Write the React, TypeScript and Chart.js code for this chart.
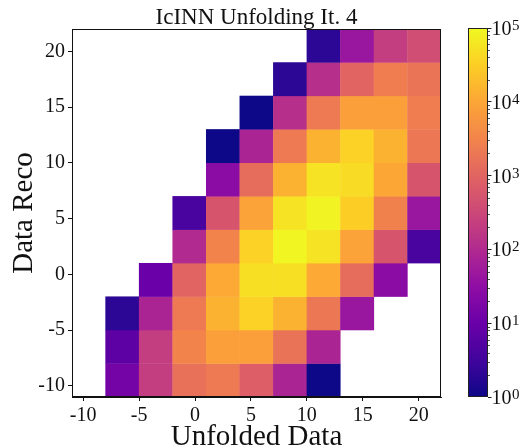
import React, { useEffect, useRef } from 'react';
import { Chart, registerables } from 'chart.js';

Chart.register(...registerables);

const TITLE = 'IcINN Unfolding It. 4';
const X_LABEL = 'Unfolded Data';
const Y_LABEL = 'Data Reco';

const xBinEdges = [-11, -8, -5, -2, 1, 4, 7, 10, 13, 16, 19, 22];
const yBinEdges = [-11, -8, -5, -2, 1, 4, 7, 10, 13, 16, 19, 22];
const xTicks = [-10, -5, 0, 5, 10, 15, 20];
const yTicks = [-10, -5, 0, 5, 10, 15, 20];

const cbMin = 1;
const cbMax = 100000;
const cbTicks = [1, 10, 100, 1000, 10000, 100000];
const cbTickBase = '10';
const cbTickExponents = ['0', '1', '2', '3', '4', '5'];
const cbMinorMultipliers = [2, 3, 4, 5, 6, 7, 8, 9];

// Counts per y bin (bottom row first), one value per x bin (left to right); null = empty
const row0 = [null, 14, 220, 1600, 2200, 800, 80, 1, null, null, null];
const row1 = [null, 7, 220, 3200, 7900, 7900, 1700, 80, null, null, null];
const row2 = [null, 2, 80, 2200, 14000, 35000, 14000, 2000, 45, null, null];
const row3 = [null, null, 10, 1000, 11000, 50000, 50000, 11000, 1400, 28, null];
const row4 = [null, null, null, 100, 3200, 35000, 89000, 56000, 8900, 560, 4];
const row5 = [null, null, null, 4, 560, 8900, 56000, 85000, 32000, 2800, 45];
const row6 = [null, null, null, null, 28, 1400, 14000, 56000, 45000, 10000, 560];
const row7 = [null, null, null, null, 1, 80, 2200, 14000, 35000, 14000, 2000];
const row8 = [null, null, null, null, null, 1, 126, 2200, 7900, 7900, 2500];
const row9 = [null, null, null, null, null, null, 2, 126, 1000, 2500, 1800];
const row10 = [null, null, null, null, null, null, null, 2, 45, 220, 400];
const rows = [row0, row1, row2, row3, row4, row5, row6, row7, row8, row9, row10];

// plasma colormap stops
const plasmaStops = [
  '#0d0887', '#41049d', '#6a00a8', '#8f0da4', '#b12a90', '#cc4778',
  '#e16462', '#f2844b', '#fca636', '#fcce25', '#f0f921',
];

const FONT = "'Liberation Serif', 'DejaVu Serif', serif";
const TEXT = '#111';

function hexToRgb(h: string) {
  return [parseInt(h.slice(1, 3), 16), parseInt(h.slice(3, 5), 16), parseInt(h.slice(5, 7), 16)];
}
function plasma(t: number) {
  const tt = Math.max(0, Math.min(1, t));
  const n = plasmaStops.length - 1;
  const i = Math.min(n - 1, Math.floor(tt * n));
  const f = tt * n - i;
  const a = hexToRgb(plasmaStops[i]);
  const b = hexToRgb(plasmaStops[i + 1]);
  const c = a.map((v, k) => Math.round(v + (b[k] - v) * f));
  return `rgb(${c[0]},${c[1]},${c[2]})`;
}
function normLog(v: number) {
  return (Math.log10(v) - Math.log10(cbMin)) / (Math.log10(cbMax) - Math.log10(cbMin));
}

const cells: any[] = [];
rows.forEach((r, yi) => {
  r.forEach((v, xi) => {
    if (v === null) return;
    cells.push({
      x: (xBinEdges[xi] + xBinEdges[xi + 1]) / 2,
      y: (yBinEdges[yi] + yBinEdges[yi + 1]) / 2,
      x0: xBinEdges[xi], x1: xBinEdges[xi + 1],
      y0: yBinEdges[yi], y1: yBinEdges[yi + 1],
      v,
    });
  });
});

const heatmapPlugin = {
  id: 'heatmapCells',
  beforeDatasetsDraw(chart: any) {
    const { ctx, chartArea, scales } = chart;
    const xs = scales.x, ys = scales.y;
    const data = chart.data.datasets[0].data as any[];
    ctx.save();
    ctx.beginPath();
    ctx.rect(chartArea.left, chartArea.top, chartArea.right - chartArea.left, chartArea.bottom - chartArea.top);
    ctx.clip();
    for (const c of data) {
      const px0 = xs.getPixelForValue(c.x0), px1 = xs.getPixelForValue(c.x1);
      const py0 = ys.getPixelForValue(c.y0), py1 = ys.getPixelForValue(c.y1);
      ctx.fillStyle = plasma(normLog(c.v));
      ctx.fillRect(Math.min(px0, px1) - 0.2, Math.min(py0, py1) - 0.2, Math.abs(px1 - px0) + 0.4, Math.abs(py1 - py0) + 0.4);
    }
    ctx.restore();
  },
  afterDraw(chart: any) {
    const { ctx, chartArea } = chart;
    ctx.save();
    ctx.strokeStyle = '#111';
    ctx.lineWidth = 1;
    ctx.strokeRect(chartArea.left + 0.5, chartArea.top + 0.5, chartArea.right - chartArea.left - 1, chartArea.bottom - chartArea.top - 1);
    ctx.restore();
  },
};

const colorbarPlugin = {
  id: 'colorbarFrame',
  afterDraw(chart: any) {
    const { ctx, chartArea, scales } = chart;
    const ys = scales.y;
    ctx.save();
    ctx.strokeStyle = '#222';
    ctx.lineWidth = 1;
    ctx.strokeRect(chartArea.left + 0.5, chartArea.top + 0.5, chartArea.right - chartArea.left - 1, chartArea.bottom - chartArea.top - 1);
    ctx.lineWidth = 0.8;
    for (let k = 0; k < cbTicks.length - 1; k++) {
      for (const m of cbMinorMultipliers) {
        const py = Math.round(ys.getPixelForValue(cbTicks[k] * m)) + 0.5;
        ctx.beginPath();
        ctx.moveTo(chartArea.right - 0.5, py);
        ctx.lineTo(chartArea.right + 2, py);
        ctx.stroke();
      }
    }
    // tick labels "10" with raised exponent
    ctx.fillStyle = TEXT;
    ctx.textAlign = 'left';
    ctx.textBaseline = 'alphabetic';
    const x0 = chartArea.right + 3.5;
    cbTicks.forEach((v, i) => {
      const py = ys.getPixelForValue(v);
      ctx.font = `20px ${FONT}`;
      ctx.fillText(cbTickBase, x0, py + 7);
      const w = ctx.measureText(cbTickBase).width;
      ctx.font = `15px ${FONT}`;
      ctx.fillText(cbTickExponents[i], x0 + w + 0.5, py + 2);
    });
    ctx.restore();
  },
};

export default function App() {
  const mainRef = useRef<HTMLCanvasElement>(null);
  const cbRef = useRef<HTMLCanvasElement>(null);

  useEffect(() => {
    const tickFont = { family: FONT, size: 20 };
    const main = new Chart(mainRef.current!, {
      type: 'scatter',
      data: {
        datasets: [{ data: cells, pointRadius: 0, pointHoverRadius: 0, showLine: false }],
      },
      options: {
        responsive: false,
        animation: false,
        devicePixelRatio: 1,
        events: [],
        layout: { padding: { left: 0, right: 81, top: 0, bottom: 0 } },
        plugins: {
          legend: { display: false },
          tooltip: { enabled: false },
          title: {
            display: true,
            text: TITLE,
            fullSize: false,
            color: TEXT,
            font: { family: FONT, size: 23, weight: 'normal', lineHeight: 1 },
            padding: { top: 6, bottom: 0 },
          },
        },
        scales: {
          x: {
            type: 'linear',
            min: xBinEdges[0],
            max: xBinEdges[xBinEdges.length - 1],
            afterBuildTicks: (s: any) => { s.ticks = xTicks.map((v) => ({ value: v })); },
            afterFit: (s: any) => { s.height = 50; },
            ticks: { color: TEXT, font: tickFont, padding: 2.5, maxRotation: 0, autoSkip: false },
            grid: { display: true, drawOnChartArea: false, drawTicks: true, tickLength: 4, color: '#111' },
            border: { display: true, color: '#111', width: 1 },
            title: {
              display: true, text: X_LABEL, color: TEXT,
              font: { family: FONT, size: 29, lineHeight: 1 },
              padding: { top: 0, bottom: -4.5 },
            },
          },
          y: {
            type: 'linear',
            min: yBinEdges[0],
            max: yBinEdges[yBinEdges.length - 1],
            afterBuildTicks: (s: any) => { s.ticks = yTicks.map((v) => ({ value: v })); },
            afterFit: (s: any) => { s.width = 72; },
            ticks: { color: TEXT, font: tickFont, padding: 3, autoSkip: false },
            grid: { display: true, drawOnChartArea: false, drawTicks: true, tickLength: 4, color: '#111' },
            border: { display: true, color: '#111', width: 1 },
            title: {
              display: true, text: Y_LABEL, color: TEXT,
              font: { family: FONT, size: 29, lineHeight: 1 },
              padding: { top: 10, bottom: 0 },
            },
          },
        },
      } as any,
      plugins: [heatmapPlugin],
    });

    const cb = new Chart(cbRef.current!, {
      type: 'bar',
      data: {
        labels: ['cb'],
        datasets: [{
          data: [[cbMin, cbMax]] as any,
          borderWidth: 0,
          barPercentage: 1,
          categoryPercentage: 1,
          backgroundColor: (ctx: any) => {
            const area = ctx.chart.chartArea;
            if (!area) return plasmaStops[5];
            const g = ctx.chart.ctx.createLinearGradient(0, area.bottom, 0, area.top);
            for (let i = 0; i <= 50; i++) g.addColorStop(i / 50, plasma(i / 50));
            return g;
          },
        }],
      },
      options: {
        responsive: false,
        animation: false,
        devicePixelRatio: 1,
        events: [],
        layout: { padding: { left: 468, right: 0, top: 28, bottom: 50 } },
        plugins: { legend: { display: false }, tooltip: { enabled: false }, title: { display: false } },
        scales: {
          x: { type: 'category', display: false },
          y: {
            type: 'logarithmic',
            position: 'right',
            min: cbMin,
            max: cbMax,
            afterBuildTicks: (s: any) => { s.ticks = cbTicks.map((v) => ({ value: v, major: true })); },
            afterFit: (s: any) => { s.width = 34; },
            ticks: { display: false },
            grid: { display: true, drawOnChartArea: false, drawTicks: true, tickLength: 3.5, color: '#222' },
            border: { display: false },
          },
        },
      } as any,
      plugins: [colorbarPlugin],
    });

    return () => { main.destroy(); cb.destroy(); };
  }, []);

  return (
    <div style={{ position: 'fixed', left: 0, top: 0, width: 522, height: 447, background: '#fff' }}>
      <canvas ref={mainRef} width={522} height={447} style={{ position: 'absolute', left: 0, top: 0 }} />
      <canvas ref={cbRef} width={522} height={447} style={{ position: 'absolute', left: 0, top: 0 }} />
    </div>
  );
}
